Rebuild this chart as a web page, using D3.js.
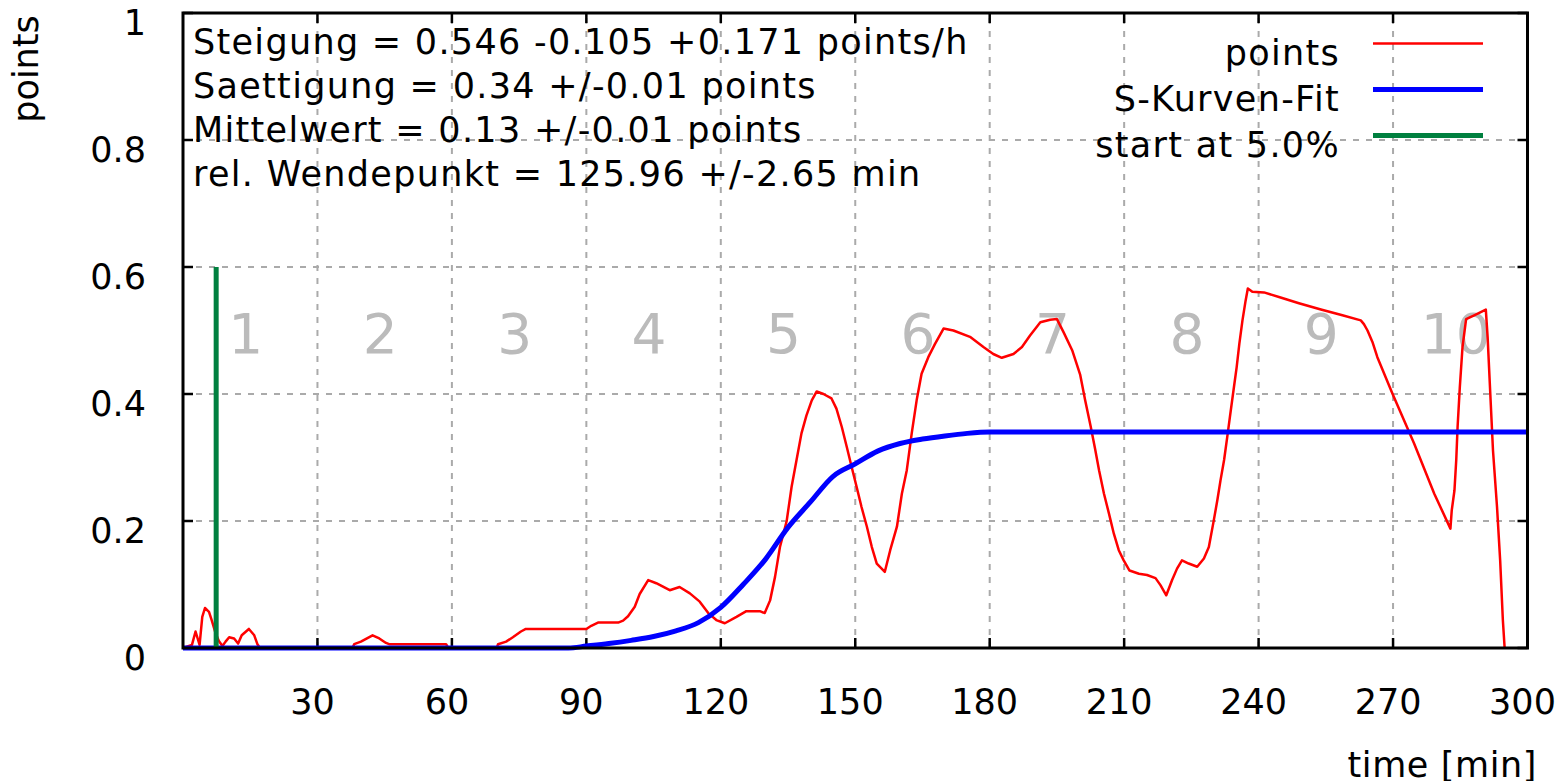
<!DOCTYPE html>
<html>

<head>
    <meta charset=utf-8 />
    <script src="https://cdn.jsdelivr.net/npm/d3@7"></script>
    <title>S-Kurven-Fit</title>
    <style>
        html,
        body {
            margin: 0;
            background: #fff;
        }

        svg text {
            font-family: "DejaVu Sans", sans-serif;
        }
    </style>
</head>

<body>
    <div id="svg-canvas"></div>
    <script>
        // measured series (time in min, value in points)
        var pointsT = [0, 2, 2.8, 3.7, 4.3, 4.9, 5.8, 6.4, 7.2, 8.0, 8.8, 9.5, 10.3, 11.4, 12.3, 13.1, 14.7, 15.9, 16.6, 17.2,
            37.8, 38.2, 39.7, 42.3, 43.8, 45.3, 46, 58.7, 59.2, 70, 70.3, 72.1, 73.6, 75.4, 76.5, 90, 91.1, 92.6, 97.1, 98.2,
            99.3, 100.8, 101.9, 103.8, 105.6, 108.6, 110.8, 113.1, 115.3, 117.2, 119, 120.9, 123.5, 125.7, 128.7, 129.8, 131,
            132.1, 133.2, 134.7, 135.8, 136.9, 138, 139.1, 140.3, 141.4, 142.9, 144.7, 145.8, 147, 148.1, 149.2, 150.3, 151.4,
            152.6, 153.7, 154.8, 156.6, 157.8, 159.3, 160.4, 161.5, 162.6, 163.7, 164.8, 166.3, 167.8, 169.7, 171.9, 175.6,
            178.6, 180.8, 182.7, 185.3, 187.2, 189, 191.3, 193.5, 195, 196.5, 198.4, 200.2, 201.3, 202.5, 203.5, 204.4, 205.5,
            206.6, 207.7, 208.8, 209.9, 211.2, 213.3, 215.1, 217, 218.1, 219.4, 220.7, 221.8, 222.9, 224.4, 226.3, 227.8,
            228.9, 230, 230.8, 231.5, 232.3, 233, 233.6, 234.5, 235.1, 235.7, 236.4, 237.1, 237.6, 238.6, 241.2, 244.9,
            249, 253.9, 258.7, 262.8, 263.5, 264.3, 265.4, 266.5, 269.9, 274.7, 279.2, 282.8, 283.1, 283.7, 284.1, 284.4,
            284.9, 285.5, 286.3, 288.1, 290.7, 291.1, 291.7, 292.3, 293.2, 293.9, 294.5, 294.9];
        var pointsV = [0, 0.005, 0.026, 0.005, 0.049, 0.063, 0.057, 0.044, 0.025, 0.011, 0.003, 0.01, 0.017, 0.015, 0.007, 0.02, 0.03, 0.02, 0.006, 0,
            0, 0.006, 0.01, 0.02, 0.015, 0.008, 0.006, 0.006, 0, 0, 0.006, 0.01, 0.017, 0.026, 0.03, 0.03, 0.035, 0.04, 0.04, 0.043,
            0.05, 0.065, 0.085, 0.107, 0.102, 0.091, 0.096, 0.086, 0.073, 0.055, 0.044, 0.039, 0.049, 0.058, 0.058, 0.055, 0.075,
            0.112, 0.159, 0.2, 0.254, 0.296, 0.338, 0.366, 0.39, 0.404, 0.4, 0.393, 0.377, 0.348, 0.317, 0.285, 0.254, 0.222,
            0.191, 0.159, 0.133, 0.12, 0.154, 0.191, 0.243, 0.28, 0.338, 0.39, 0.432, 0.458, 0.479, 0.503, 0.5, 0.49,
            0.474, 0.463, 0.457, 0.463, 0.474, 0.492, 0.513, 0.517, 0.518, 0.497, 0.469, 0.43, 0.39, 0.35, 0.314, 0.28, 0.243,
            0.212, 0.18, 0.154, 0.138, 0.122, 0.117, 0.115, 0.11, 0.099, 0.083, 0.107, 0.125, 0.138, 0.133, 0.128, 0.141,
            0.159, 0.201, 0.233, 0.264, 0.296, 0.332, 0.364, 0.411, 0.442, 0.479, 0.516, 0.547, 0.566, 0.561, 0.56, 0.552,
            0.543, 0.533, 0.524, 0.516, 0.51, 0.5, 0.482, 0.458, 0.4, 0.322, 0.243, 0.188, 0.217, 0.248, 0.296, 0.348,
            0.411, 0.474, 0.518, 0.524, 0.533, 0.49, 0.4, 0.311, 0.222, 0.138, 0.044, 0];

        // S-curve fit
        var fitT = [0, 86, 90, 95, 100, 105, 110, 115, 120, 125, 130, 135, 140, 145, 150, 155, 160, 165, 170, 175, 180, 300];
        var fitV = [0, 0, 0.003, 0.007, 0.012, 0.018, 0.027, 0.04, 0.064, 0.1, 0.14, 0.19, 0.23, 0.27, 0.29, 0.31, 0.322, 0.329, 0.334, 0.338, 0.34, 0.34];

        var startT = 7.4;
        var startV = 0.6;

        var xTicks = [30, 60, 90, 120, 150, 180, 210, 240, 270, 300];
        var yTicks = [0, 0.2, 0.4, 0.6, 0.8, 1];
        var sectionLabels = ['1', '2', '3', '4', '5', '6', '7', '8', '9', '10'];
        var statsLines = [
            'Steigung = 0.546 -0.105 +0.171 points/h',
            'Saettigung = 0.34 +/-0.01 points',
            'Mittelwert = 0.13 +/-0.01 points',
            'rel. Wendepunkt = 125.96 +/-2.65 min'
        ];
        var legendNames = ['points', 'S-Kurven-Fit', 'start at 5.0%'];
        var legendColors = ['#ff0000', '#0000ff', '#00803f'];
        var legendWidths = [2.5, 5, 5];
    </script>
    <script>
        (function () {
            var W = 1564, H = 781;
            var mLeft = 183, mRight = 1527.5, mTop = 13, mBottom = 648;
            var fs = 35;

            var svg = d3.select('#svg-canvas').append('svg')
                .attr('width', W).attr('height', H);

            var x = d3.scaleLinear().domain([0, 300]).range([mLeft, mRight]);
            var y = d3.scaleLinear().domain([0, 1]).range([mBottom, mTop]);

            // grid
            var grid = svg.append('g')
                .attr('stroke', '#aaaaaa').attr('stroke-width', 2).attr('stroke-dasharray', '6,7');
            grid.selectAll('.vg').data(xTicks.slice(0, -1))
                .enter().append('line')
                .attr('x1', d => x(d)).attr('x2', d => x(d))
                .attr('y1', mBottom).attr('y2', mTop);
            grid.selectAll('.hg').data(yTicks.slice(1, -1))
                .enter().append('line')
                .attr('y1', d => y(d)).attr('y2', d => y(d))
                .attr('x1', mLeft).attr('x2', mRight);

            // section numbers
            svg.append('g').selectAll('text').data(sectionLabels)
                .enter().append('text')
                .attr('x', (d, i) => x(30 * (i + 1) - 16))
                .attr('y', y(0.465))
                .attr('text-anchor', 'middle')
                .attr('fill', '#bbbbbb')
                .attr('font-size', 55)
                .text(d => d);

            // axes (ticks inside, mirrored)
            var tickLen = 10;
            var axes = svg.append('g').attr('stroke', '#000').attr('stroke-width', 2.5);
            xTicks.forEach(function (t) {
                axes.append('line').attr('x1', x(t)).attr('x2', x(t)).attr('y1', mBottom).attr('y2', mBottom - tickLen);
                axes.append('line').attr('x1', x(t)).attr('x2', x(t)).attr('y1', mTop).attr('y2', mTop + tickLen);
            });
            yTicks.forEach(function (t) {
                axes.append('line').attr('x1', mLeft).attr('x2', mLeft + tickLen).attr('y1', y(t)).attr('y2', y(t));
                axes.append('line').attr('x1', mRight).attr('x2', mRight - tickLen).attr('y1', y(t)).attr('y2', y(t));
            });

            svg.append('g').selectAll('text').data(xTicks)
                .enter().append('text')
                .attr('x', d => x(d) - 5)
                .attr('y', 714)
                .attr('text-anchor', 'middle')
                .attr('font-size', fs)
                .text(d => d);

            svg.append('g').selectAll('text').data(yTicks)
                .enter().append('text')
                .attr('x', 146)
                .attr('y', d => y(d) + 22)
                .attr('text-anchor', 'end')
                .attr('font-size', fs)
                .text(d => d);

            svg.append('text')
                .attr('transform', 'translate(38,69) rotate(-90)')
                .attr('text-anchor', 'middle')
                .attr('font-size', fs)
                .text('points');

            svg.append('text')
                .attr('x', 1537).attr('y', 777)
                .attr('text-anchor', 'end')
                .attr('font-size', fs)
                .attr('letter-spacing', 0.6)
                .text('time [min]');

            // data lines
            var line = d3.line()
                .x(d => x(d[0]))
                .y(d => y(d[1]));

            var pts = pointsT.map((t, i) => [t, pointsV[i]]);
            var fit = fitT.map((t, i) => [t, fitV[i]]);

            svg.append('path')
                .attr('d', line(pts))
                .attr('fill', 'none').attr('stroke', legendColors[0]).attr('stroke-width', legendWidths[0])
                .attr('stroke-linejoin', 'round');

            svg.append('path')
                .attr('d', line.curve(d3.curveMonotoneX)(fit))
                .attr('fill', 'none').attr('stroke', legendColors[1]).attr('stroke-width', legendWidths[1]);

            svg.append('line')
                .attr('x1', x(startT)).attr('x2', x(startT))
                .attr('y1', y(0)).attr('y2', y(startV))
                .attr('stroke', legendColors[2]).attr('stroke-width', legendWidths[2]);

            // border
            svg.append('rect')
                .attr('x', mLeft).attr('y', mTop)
                .attr('width', mRight - mLeft).attr('height', mBottom - mTop)
                .attr('fill', 'none').attr('stroke', '#000').attr('stroke-width', 3);

            // stats text
            svg.append('g').selectAll('text').data(statsLines)
                .enter().append('text')
                .attr('x', 193)
                .attr('y', (d, i) => 54 + i * 44)
                .attr('font-size', fs)
                .attr('letter-spacing', 1.3)
                .text(d => d);

            // legend
            var leg = svg.append('g').selectAll('g').data(legendNames)
                .enter().append('g')
                .attr('transform', (d, i) => 'translate(0,' + (43.5 + i * 46) + ')');
            leg.append('text')
                .attr('x', 1340).attr('y', 21)
                .attr('text-anchor', 'end')
                .attr('font-size', fs)
                .attr('letter-spacing', 1.3)
                .text(d => d);
            leg.append('line')
                .attr('x1', 1373).attr('x2', 1483)
                .attr('stroke', (d, i) => legendColors[i])
                .attr('stroke-width', (d, i) => legendWidths[i]);
        })();
    </script>
</body>

</html>
